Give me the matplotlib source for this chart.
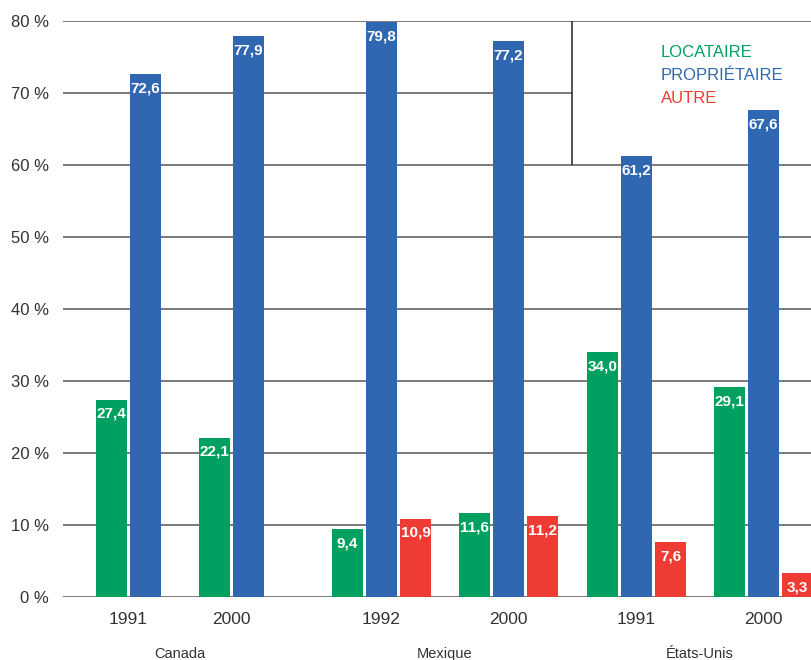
import matplotlib
matplotlib.use('Agg')
import matplotlib.pyplot as plt

countries = ['Canada', 'Mexique', 'États-Unis']
years = [['1991', '2000'], ['1992', '2000'], ['1991', '2000']]
locataire = [[27.4, 22.1], [9.4, 11.6], [34.0, 29.1]]
proprietaire = [[72.6, 77.9], [79.8, 77.2], [61.2, 67.6]]
autre = [[None, None], [10.9, 11.2], [7.6, 3.3]]

series_names = ['LOCATAIRE', 'PROPRIÉTAIRE', 'AUTRE']
colors = ['#00a160', '#2f68b1', '#ee3b33']
y_ticks = [0, 10, 20, 30, 40, 50, 60, 70, 80]

# layout (pixel-like units on x)
year_centers = [[128.5, 231.5], [381.5, 508.5], [636.5, 763.5]]
step, width = 34, 31

plt.rcParams['font.family'] = ['Liberation Sans', 'DejaVu Sans']

fig = plt.figure(figsize=(8.12, 6.6), dpi=100)
ax = fig.add_axes([63 / 812, 1 - 597 / 660, 1 - 63 / 812, 576 / 660])
ax.set_xlim(63, 812)
ax.set_ylim(0, 80)
for s in ax.spines.values():
    s.set_visible(False)

# gridlines, the 70 % one stops at the legend box
for t in y_ticks:
    right = 572 if t == 70 else 812
    ax.hlines(t, 63, right, color='#646464', lw=1.2, zorder=1)
ax.vlines(572, 60, 80, color='#333333', lw=1.2, zorder=1)

xt, xl = [], []
for g in range(len(countries)):
    for k in range(len(years[g])):
        vals = [locataire[g][k], proprietaire[g][k], autre[g][k]]
        vals = [(i, v) for i, v in enumerate(vals) if v is not None]
        n = len(vals)
        for j, (i, v) in enumerate(vals):
            x = year_centers[g][k] + (j - (n - 1) / 2) * step
            ax.bar(x, v, width=width, color=colors[i], zorder=2)
            ax.annotate(f'{v:.1f}'.replace('.', ','), (x, v), xytext=(0, -5),
                        textcoords='offset points', ha='center', va='top',
                        color='white', fontsize=11, fontweight='bold',
                        zorder=3, annotation_clip=False)
        xt.append(year_centers[g][k])
        xl.append(years[g][k])
    ax.text(sum(year_centers[g]) / 2, -7.9, countries[g], ha='center', va='center',
            fontsize=10.5, color='#333333')

ax.set_xticks(xt)
ax.set_xticklabels(xl, fontsize=12.5, color='#333333')
ax.set_yticks(y_ticks)
ax.set_yticklabels([f'{t} %' for t in y_ticks], fontsize=12, color='#333333')
ax.tick_params(length=0)
ax.tick_params(axis='x', pad=11)
ax.tick_params(axis='y', pad=10)

for i, name in enumerate(series_names):
    ax.text(661, 75.6 - i * 3.2, name, color=colors[i], fontsize=12,
            ha='left', va='center')

fig.savefig('out.png', dpi=100)
